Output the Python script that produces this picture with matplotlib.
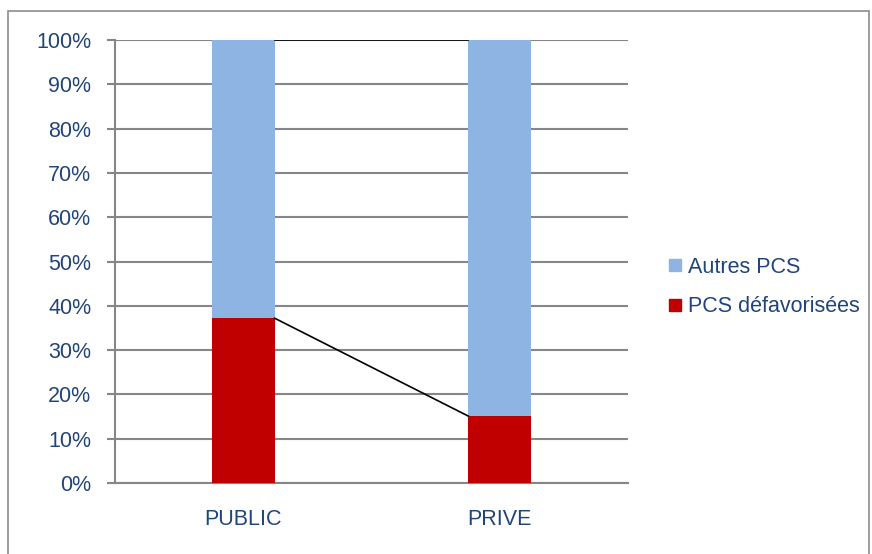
import matplotlib.pyplot as plt
from matplotlib.patches import Rectangle
from matplotlib.lines import Line2D

plt.rcParams['font.family'] = ['Liberation Sans', 'DejaVu Sans']

categories = ['PUBLIC', 'PRIVE']
pcs_defav = [37.2, 15.1]
autres_pcs = [62.8, 84.9]
yticks = [0, 10, 20, 30, 40, 50, 60, 70, 80, 90, 100]

red = '#C00000'
blue = '#8EB4E3'
txt = '#21457A'
gray = '#868686'

fig = plt.figure(figsize=(8.72, 5.54), dpi=100)
fig.patches.append(Rectangle((8/872, -0.01), 861/872, 1.01 - 11/554, transform=fig.transFigure,
                             fill=False, edgecolor='#8C8C8C', lw=1.2))
ax = fig.add_axes([115/872, 1 - 483/554, 513/872, 443/554])

x = [0, 1]
w = 0.245
ax.bar(x, pcs_defav, width=w, color=red, zorder=3)
ax.bar(x, autres_pcs, bottom=pcs_defav, width=w, color=blue, zorder=3)

# lignes de séries
tops = [p + a for p, a in zip(pcs_defav, autres_pcs)]
ax.plot([x[0] + w/2, x[1] - w/2], pcs_defav, color='black', lw=1.2, zorder=4)
ax.plot([x[0] + w/2, x[1] - w/2], tops, color='black', lw=1.2, zorder=4)

ax.set_xlim(-0.5, 1.5)
ax.set_ylim(0, 100)
ax.set_yticks(yticks)
ax.set_yticklabels([f'{t}%' for t in yticks], color=txt, fontsize=15.5)
ax.set_xticks(x)
ax.set_xticklabels(categories, color=txt, fontsize=15.5)
ax.tick_params(axis='x', length=0, pad=19)
ax.tick_params(axis='y', length=6, color=gray, width=1.5, pad=11)
ax.grid(axis='y', color=gray, lw=1.5, zorder=0)
for s in ['top', 'right']:
    ax.spines[s].set_visible(False)
ax.spines['left'].set_color(gray)
ax.spines['bottom'].set_color(gray)
ax.spines['left'].set_linewidth(1.5)
ax.spines['bottom'].set_linewidth(1.5)

handles = [Line2D([], [], marker='s', ls='', color=blue, markersize=8),
           Line2D([], [], marker='s', ls='', color=red, markersize=8)]
fig.legend(handles, ['Autres PCS', 'PCS défavorisées'], loc='center left',
           bbox_to_anchor=(643/872, 1 - 287/554), frameon=False, fontsize=15.5,
           labelcolor=txt, handletextpad=0.0, labelspacing=0.86, handlelength=1.2)

fig.savefig('out.png', dpi=100)
